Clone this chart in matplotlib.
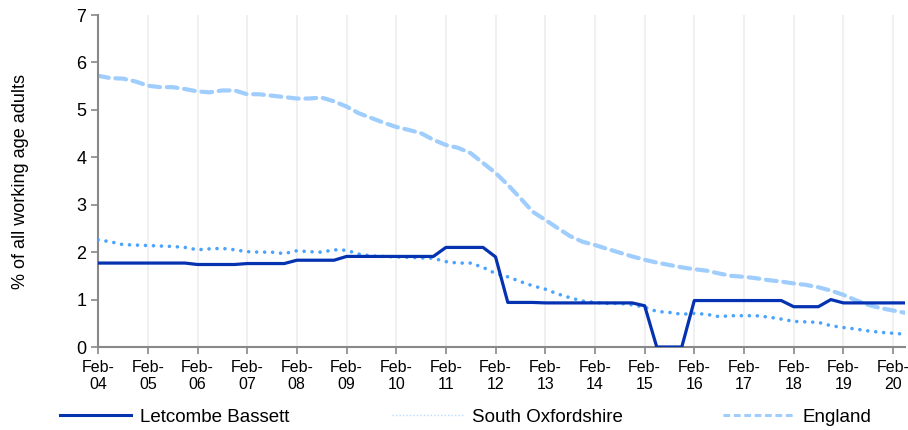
import numpy as np
import pandas as pd
import matplotlib
matplotlib.use("Agg")
import matplotlib.pyplot as plt
from matplotlib.lines import Line2D

# Datos (trimestrales, Feb-04 a May-20) ######################################
fechas = pd.date_range("2004-02-01", periods=66, freq="3MS")

letcombe = [1.77, 1.77, 1.77, 1.77, 1.77, 1.77, 1.77, 1.77,
            1.74, 1.74, 1.74, 1.74,
            1.76, 1.76, 1.76, 1.76,
            1.83, 1.83, 1.83, 1.83,
            1.91, 1.91, 1.91, 1.91, 1.91, 1.91, 1.91, 1.91,
            2.10, 2.10, 2.10, 2.10,
            1.90,
            0.94, 0.94, 0.94, 0.93, 0.93, 0.93, 0.93, 0.93, 0.93, 0.93, 0.93,
            0.87,
            0.0, 0.0, 0.0,
            0.98, 0.98, 0.98, 0.98, 0.98, 0.98, 0.98, 0.98,
            0.85, 0.85, 0.85,
            1.00,
            0.93, 0.93, 0.93, 0.93, 0.93, 0.93]

south_oxon = [2.26, 2.22, 2.16, 2.15, 2.14, 2.13, 2.12, 2.10,
              2.05, 2.07, 2.08, 2.05, 2.01, 2.00, 2.00, 1.97,
              2.03, 2.01, 2.00, 2.05, 2.04, 1.96, 1.92, 1.91,
              1.90, 1.89, 1.88, 1.87, 1.80, 1.77, 1.77, 1.68,
              1.55, 1.48, 1.38, 1.29, 1.22, 1.12, 1.04, 0.97,
              0.94, 0.92, 0.92, 0.89, 0.84, 0.75, 0.73, 0.69,
              0.71, 0.69, 0.64, 0.66, 0.66, 0.66, 0.63, 0.59,
              0.54, 0.53, 0.52, 0.45, 0.41, 0.38, 0.34, 0.31,
              0.29, 0.27]

england = [5.72, 5.67, 5.66, 5.60, 5.51, 5.48, 5.48, 5.44,
           5.39, 5.37, 5.41, 5.41, 5.33, 5.33, 5.30, 5.27,
           5.24, 5.24, 5.26, 5.18, 5.07, 4.93, 4.83, 4.73,
           4.64, 4.58, 4.51, 4.37, 4.26, 4.20, 4.09, 3.88,
           3.67, 3.42, 3.14, 2.85, 2.68, 2.51, 2.34, 2.22,
           2.15, 2.07, 1.99, 1.91, 1.84, 1.78, 1.73, 1.68,
           1.64, 1.61, 1.55, 1.50, 1.48, 1.45, 1.41, 1.38,
           1.34, 1.31, 1.26, 1.19, 1.10, 0.99, 0.89, 0.82,
           0.77, 0.72]

nombres = ["Letcombe Bassett", "South Oxfordshire", "England"]
colores = ["#0532b0", "#4aa3ff", "#9fcdfd"]

# Grafico ####################################################################
plt.rcParams["font.family"] = ["Liberation Sans", "DejaVu Sans"]

fig = plt.figure(figsize=(9.08, 4.30), dpi=100)
ax = fig.add_axes([0.108, 0.193, 0.889, 0.772])

ax.plot(fechas, england, color=colores[2], lw=3.0, linestyle=(0, (2.6, 1.6)),
        dash_capstyle="round", zorder=2)
ax.plot(fechas, south_oxon, color=colores[1], lw=2.6, linestyle=(0, (0.01, 2.2)),
        dash_capstyle="round", zorder=3)
ax.plot(fechas, letcombe, color=colores[0], lw=2.3, zorder=4)

ax.set_ylim(0, 7)
ax.set_yticks(range(0, 8))
ax.set_xlim(fechas[0], fechas[-1])
ticks_x = pd.date_range("2004-02-01", "2020-02-01", freq="12MS")
ax.set_xticks(ticks_x)
ax.set_xticklabels(["Feb-\n" + d.strftime("%y") for d in ticks_x])

ax.grid(axis="x", color="#eeeeee", lw=1.2)
ax.set_axisbelow(True)
for s in ["top", "right"]:
    ax.spines[s].set_visible(False)
for s in ["left", "bottom"]:
    ax.spines[s].set_color("#888888")
    ax.spines[s].set_linewidth(1.5)
ax.tick_params(axis="both", colors="#888888", length=5, width=1.2)
ax.tick_params(axis="y", labelsize=13, labelcolor="black")
ax.tick_params(axis="x", labelsize=11.5, labelcolor="black", pad=4)
ax.set_ylabel("% of all working age adults", fontsize=13)
ax.yaxis.set_label_coords(-0.085, 0.5)

# leyenda en tres columnas fijas
proxies = [Line2D([], [], color=colores[0], lw=2.2),
           Line2D([], [], color="#b8dcff", lw=1.0, linestyle=(0, (1, 1.5))),
           Line2D([], [], color=colores[2], lw=2.2, linestyle=(0, (2.2, 1.2)))]
pos_x = [0.066, 0.432, 0.796]
for h, n, px in zip(proxies, nombres, pos_x):
    fig.legend([h], [n], loc="center left", bbox_to_anchor=(px, 0.03),
               frameon=False, fontsize=13.5, handlelength=3.8, handletextpad=0.45,
               borderaxespad=0, borderpad=0)

fig.savefig("out.png", dpi=100)
